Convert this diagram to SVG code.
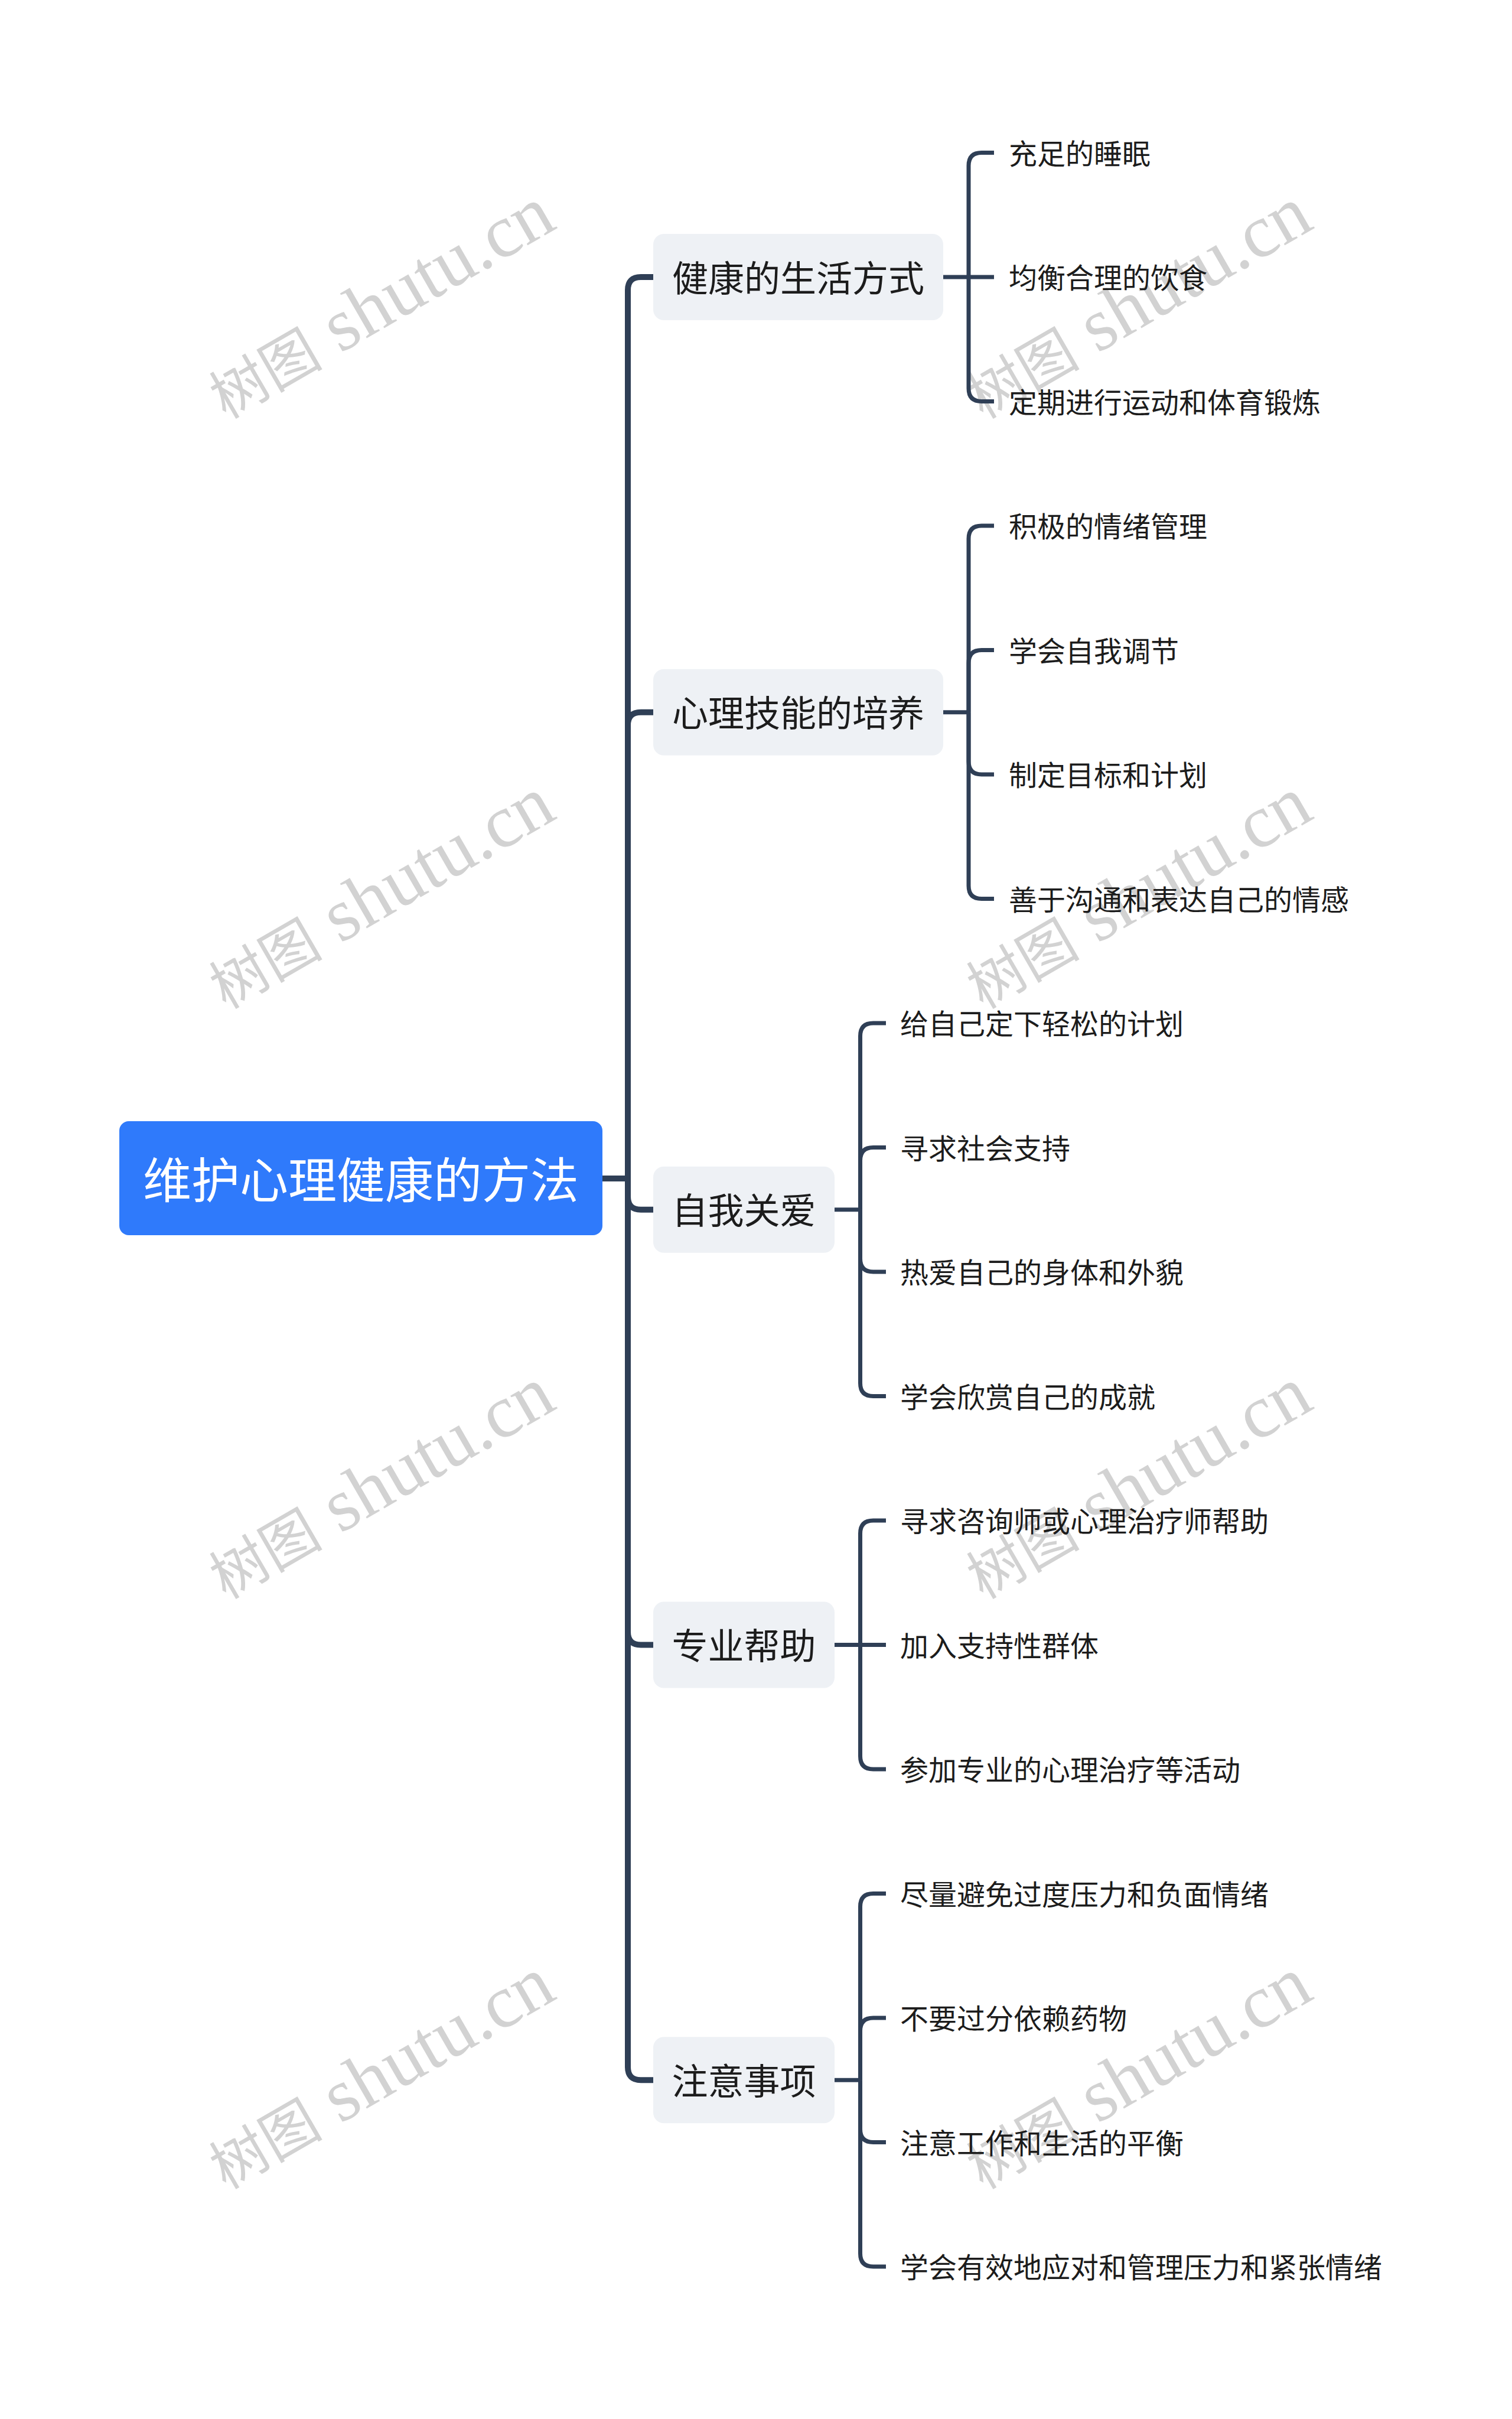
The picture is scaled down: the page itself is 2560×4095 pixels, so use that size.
<svg xmlns="http://www.w3.org/2000/svg" width="2560" height="4095" viewBox="0 0 2560 4095">
<style>
.wm{fill:#d2d2d2;font-family:"Liberation Serif","Noto Sans CJK SC",serif;font-size:127px}
.wm .cjk{font-size:96px}
.root rect{fill:#2f7afb}
.root text{fill:#ffffff;font-family:"Noto Sans CJK SC",sans-serif;font-size:82px}
.l1 rect{fill:#eef1f5}
.l1 text{fill:#1c1c1c;font-family:"Noto Sans CJK SC",sans-serif;font-size:61px}
.leaf text{fill:#1c1c1c;font-family:"Noto Sans CJK SC",sans-serif;font-size:48px}
.trunk{fill:none;stroke:#2f3f56;stroke-width:10}
.br{fill:none;stroke:#2f3f56;stroke-width:7}
</style>
<rect width="2560" height="4095" fill="#ffffff"/>
<g id="watermarks">
<text class="wm" text-anchor="middle" transform="translate(644,513) rotate(-30)" y="40"><tspan class="cjk">树图</tspan> shutu.cn</text>
<text class="wm" text-anchor="middle" transform="translate(1926,513) rotate(-30)" y="40"><tspan class="cjk">树图</tspan> shutu.cn</text>
<text class="wm" text-anchor="middle" transform="translate(644,1512) rotate(-30)" y="40"><tspan class="cjk">树图</tspan> shutu.cn</text>
<text class="wm" text-anchor="middle" transform="translate(1926,1512) rotate(-30)" y="40"><tspan class="cjk">树图</tspan> shutu.cn</text>
<text class="wm" text-anchor="middle" transform="translate(644,2511) rotate(-30)" y="40"><tspan class="cjk">树图</tspan> shutu.cn</text>
<text class="wm" text-anchor="middle" transform="translate(1926,2511) rotate(-30)" y="40"><tspan class="cjk">树图</tspan> shutu.cn</text>
<text class="wm" text-anchor="middle" transform="translate(644,3510) rotate(-30)" y="40"><tspan class="cjk">树图</tspan> shutu.cn</text>
<text class="wm" text-anchor="middle" transform="translate(1926,3510) rotate(-30)" y="40"><tspan class="cjk">树图</tspan> shutu.cn</text>
</g>
<g id="connectors">
<path class="trunk" d="M1020 1995 H1063"/>
<path class="trunk" d="M1063 1995 V491 Q1063 469 1085 469 H1106"/>
<path class="trunk" d="M1063 1995 V1227.75 Q1063 1205.75 1085 1205.75 H1106"/>
<path class="trunk" d="M1063 1995 V2025.75 Q1063 2047.75 1085 2047.75 H1106"/>
<path class="trunk" d="M1063 1995 V2762.5 Q1063 2784.5 1085 2784.5 H1106"/>
<path class="trunk" d="M1063 1995 V3499.25 Q1063 3521.25 1085 3521.25 H1106"/>

<path class="br" d="M1597 469 H1640"/>
<path class="br" d="M1640 469 V280.5 Q1640 258.5 1662 258.5 H1683"/>
<path class="br" d="M1640 469 H1683"/>
<path class="br" d="M1640 469 V657.5 Q1640 679.5 1662 679.5 H1683"/>

<path class="br" d="M1597 1205.75 H1640"/>
<path class="br" d="M1640 1205.75 V912 Q1640 890 1662 890 H1683"/>
<path class="br" d="M1640 1205.75 V1122.5 Q1640 1100.5 1662 1100.5 H1683"/>
<path class="br" d="M1640 1205.75 V1289 Q1640 1311 1662 1311 H1683"/>
<path class="br" d="M1640 1205.75 V1499.5 Q1640 1521.5 1662 1521.5 H1683"/>

<path class="br" d="M1413 2047.75 H1456.5"/>
<path class="br" d="M1456.5 2047.75 V1754 Q1456.5 1732 1478.5 1732 H1500"/>
<path class="br" d="M1456.5 2047.75 V1964.5 Q1456.5 1942.5 1478.5 1942.5 H1500"/>
<path class="br" d="M1456.5 2047.75 V2131 Q1456.5 2153 1478.5 2153 H1500"/>
<path class="br" d="M1456.5 2047.75 V2341.5 Q1456.5 2363.5 1478.5 2363.5 H1500"/>

<path class="br" d="M1413 2784.5 H1456.5"/>
<path class="br" d="M1456.5 2784.5 V2596 Q1456.5 2574 1478.5 2574 H1500"/>
<path class="br" d="M1456.5 2784.5 H1500"/>
<path class="br" d="M1456.5 2784.5 V2973 Q1456.5 2995 1478.5 2995 H1500"/>

<path class="br" d="M1413 3521.25 H1456.5"/>
<path class="br" d="M1456.5 3521.25 V3227.5 Q1456.5 3205.5 1478.5 3205.5 H1500"/>
<path class="br" d="M1456.5 3521.25 V3438 Q1456.5 3416 1478.5 3416 H1500"/>
<path class="br" d="M1456.5 3521.25 V3604.5 Q1456.5 3626.5 1478.5 3626.5 H1500"/>
<path class="br" d="M1456.5 3521.25 V3815 Q1456.5 3837 1478.5 3837 H1500"/>
</g>
<g id="root" class="root">
<rect x="202" y="1898" width="818" height="193" rx="16"/>
<text x="611" y="1992" text-anchor="middle" dominant-baseline="central">维护心理健康的方法</text>
</g>
<g id="n1" class="l1"><rect x="1106" y="396" width="491" height="146" rx="18"/><text x="1351.5" y="467" text-anchor="middle" dominant-baseline="central">健康的生活方式</text></g>
<g id="n2" class="l1"><rect x="1106" y="1132.75" width="491" height="146" rx="18"/><text x="1351.5" y="1203.75" text-anchor="middle" dominant-baseline="central">心理技能的培养</text></g>
<g id="n3" class="l1"><rect x="1106" y="1974.75" width="307" height="146" rx="18"/><text x="1259.5" y="2045.75" text-anchor="middle" dominant-baseline="central">自我关爱</text></g>
<g id="n4" class="l1"><rect x="1106" y="2711.5" width="307" height="146" rx="18"/><text x="1259.5" y="2782.5" text-anchor="middle" dominant-baseline="central">专业帮助</text></g>
<g id="n5" class="l1"><rect x="1106" y="3448.25" width="307" height="146" rx="18"/><text x="1259.5" y="3519.25" text-anchor="middle" dominant-baseline="central">注意事项</text></g>

<g id="l1a" class="leaf"><text x="1708" y="256.5" dominant-baseline="central">充足的睡眠</text></g>
<g id="l1b" class="leaf"><text x="1708" y="467" dominant-baseline="central">均衡合理的饮食</text></g>
<g id="l1c" class="leaf"><text x="1708" y="677.5" dominant-baseline="central">定期进行运动和体育锻炼</text></g>
<g id="l2a" class="leaf"><text x="1708" y="888" dominant-baseline="central">积极的情绪管理</text></g>
<g id="l2b" class="leaf"><text x="1708" y="1098.5" dominant-baseline="central">学会自我调节</text></g>
<g id="l2c" class="leaf"><text x="1708" y="1309" dominant-baseline="central">制定目标和计划</text></g>
<g id="l2d" class="leaf"><text x="1708" y="1519.5" dominant-baseline="central">善于沟通和表达自己的情感</text></g>
<g id="l3a" class="leaf"><text x="1524" y="1730" dominant-baseline="central">给自己定下轻松的计划</text></g>
<g id="l3b" class="leaf"><text x="1524" y="1940.5" dominant-baseline="central">寻求社会支持</text></g>
<g id="l3c" class="leaf"><text x="1524" y="2151" dominant-baseline="central">热爱自己的身体和外貌</text></g>
<g id="l3d" class="leaf"><text x="1524" y="2361.5" dominant-baseline="central">学会欣赏自己的成就</text></g>
<g id="l4a" class="leaf"><text x="1524" y="2572" dominant-baseline="central">寻求咨询师或心理治疗师帮助</text></g>
<g id="l4b" class="leaf"><text x="1524" y="2782.5" dominant-baseline="central">加入支持性群体</text></g>
<g id="l4c" class="leaf"><text x="1524" y="2993" dominant-baseline="central">参加专业的心理治疗等活动</text></g>
<g id="l5a" class="leaf"><text x="1524" y="3203.5" dominant-baseline="central">尽量避免过度压力和负面情绪</text></g>
<g id="l5b" class="leaf"><text x="1524" y="3414" dominant-baseline="central">不要过分依赖药物</text></g>
<g id="l5c" class="leaf"><text x="1524" y="3624.5" dominant-baseline="central">注意工作和生活的平衡</text></g>
<g id="l5d" class="leaf"><text x="1524" y="3835" dominant-baseline="central">学会有效地应对和管理压力和紧张情绪</text></g>
</svg>
